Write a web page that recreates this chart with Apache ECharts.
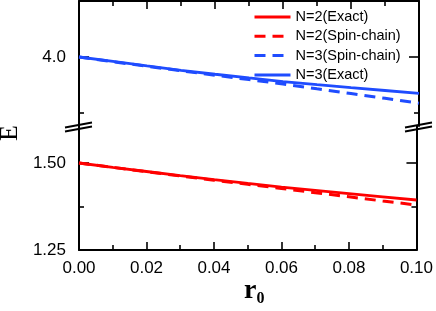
<!DOCTYPE html>
<html><head><meta charset="utf-8">
<script src="https://cdn.jsdelivr.net/npm/echarts@6/dist/echarts.min.js"></script>
<style>html,body{margin:0;padding:0;background:#fff}#c{width:436px;height:311px}</style>
</head><body><div id="c"></div>
<script>
// ---- data ----
const r0 = [0, 0.01, 0.02, 0.03, 0.04, 0.05, 0.06, 0.07, 0.08, 0.09, 0.10];
const n2Exact = [1.5, 1.4876, 1.4756, 1.4638, 1.4523, 1.4414, 1.4307, 1.4213, 1.4121, 1.4029, 1.3937];
const n2Spin  = [1.5, 1.4874, 1.4750, 1.4626, 1.4506, 1.4388, 1.4267, 1.4147, 1.4029, 1.3908, 1.3793];
const n3Spin  = [4.0, 3.958, 3.917, 3.877, 3.837, 3.798, 3.759, 3.716, 3.674, 3.631, 3.587];
const n3Exact = [4.0, 3.960, 3.920, 3.881, 3.846, 3.813, 3.781, 3.753, 3.726, 3.701, 3.676];
const seriesNames = ['N=2(Exact)', 'N=2(Spin-chain)', 'N=3(Spin-chain)', 'N=3(Exact)'];
const upperMajor = [4.0];
const upperMinor = [3.5];
const lowerMajor = [1.25, 1.5];
const lowerMinor = [1.375];
const xMin = 0, xMax = 0.1, xStep = 0.02;
const upperRange = [3.384, 4.5];
const lowerRange = [1.25, 1.6063];

const RED = '#ff0000', BLUE = '#1f4cff';
const FONT = 'Liberation Sans, Arial, sans-serif';
const zip = ys => r0.map((x, i) => [x, ys[i]]);

const chart = echarts.init(document.getElementById('c'), null, {renderer: 'canvas'});

const axLine = {show: true, lineStyle: {color: '#000', width: 2}};
function yAx(grid, pos, range, ticks, len, labels, fmt, showLine) {
  return {
    type: 'value', gridIndex: grid, position: pos, min: range[0], max: range[1],
    axisLine: showLine ? axLine : {show: false},
    axisTick: {show: true, inside: true, length: len, customValues: ticks, lineStyle: {color: '#000', width: 1.6}},
    axisLabel: labels ? {show: true, customValues: labels, formatter: fmt, color: '#000', fontSize: 17, fontFamily: FONT, margin: 13} : {show: false},
    splitLine: {show: false}
  };
}
function xAx(grid, pos, labels) {
  return {
    type: 'value', gridIndex: grid, position: pos, min: xMin, max: xMax, interval: xStep,
    axisLine: axLine,
    axisTick: {show: true, inside: true, length: 8, lineStyle: {color: '#000', width: 1.6}},
    minorTick: {show: true, splitNumber: 2, length: 5, lineStyle: {color: '#000', width: 1.6}},
    axisLabel: labels ? {show: true, formatter: v => v.toFixed(2), color: '#000', fontSize: 17, fontFamily: FONT, margin: 10} : {show: false},
    splitLine: {show: false}, minorSplitLine: {show: false}
  };
}

const option = {
  animation: false,
  backgroundColor: '#fff',
  grid: [
    {left: 79, right: 17, top: 1, height: 125},
    {left: 79, right: 17, top: 126, height: 124}
  ],
  xAxis: [xAx(0, 'top', false), xAx(1, 'bottom', true)],
  yAxis: [
    yAx(0, 'left', upperRange, upperMajor, 10, upperMajor, v => v.toFixed(1), true),
    yAx(0, 'left', upperRange, upperMinor, 5, null, null, false),
    yAx(0, 'right', upperRange, upperMajor, 10, null, null, true),
    yAx(0, 'right', upperRange, upperMinor, 5, null, null, false),
    yAx(1, 'left', lowerRange, lowerMajor, 10, lowerMajor, v => v.toFixed(2), true),
    yAx(1, 'left', lowerRange, lowerMinor, 5, null, null, false),
    yAx(1, 'right', lowerRange, lowerMajor, 10, null, null, true),
    yAx(1, 'right', lowerRange, lowerMinor, 5, null, null, false)
  ],
  legend: {
    orient: 'vertical', left: 253, top: 9.5, padding: 0, itemWidth: 36, itemHeight: 14, itemGap: 4.3,
    data: seriesNames,
    itemStyle: {opacity: 0},
    lineStyle: {width: 3},
    textStyle: {color: '#000', fontSize: 14.5, fontFamily: FONT, lineHeight: 14}
  },
  series: [
    {name: seriesNames[1], type: 'line', xAxisIndex: 1, yAxisIndex: 4, data: zip(n2Spin), symbol: 'none',
     lineStyle: {color: RED, width: 3, type: [11, 7]}, itemStyle: {color: RED}},
    {name: seriesNames[0], type: 'line', xAxisIndex: 1, yAxisIndex: 4, data: zip(n2Exact), symbol: 'none',
     lineStyle: {color: RED, width: 2.8}, itemStyle: {color: RED}},
    {name: seriesNames[2], type: 'line', xAxisIndex: 0, yAxisIndex: 0, data: zip(n3Spin), symbol: 'none',
     lineStyle: {color: BLUE, width: 3, type: [11, 7]}, itemStyle: {color: BLUE}},
    {name: seriesNames[3], type: 'line', xAxisIndex: 0, yAxisIndex: 0, data: zip(n3Exact), symbol: 'none',
     lineStyle: {color: BLUE, width: 2.8}, itemStyle: {color: BLUE}}
  ]
};
chart.setOption(option);

// break marks and axis titles
const b = 126, xl = 79, xr = 419;
function brk(x) {
  return [
    {type: 'line', shape: {x1: x - 14, y1: b + 1.5, x2: x + 13, y2: b - 3.5}, style: {stroke: '#000', lineWidth: 1.8}, z: 100},
    {type: 'line', shape: {x1: x - 14, y1: b + 5.5, x2: x + 13, y2: b + 0.5}, style: {stroke: '#000', lineWidth: 1.8}, z: 100}
  ];
}
chart.setOption({
  graphic: [
    ...brk(xl), ...brk(xr),
    {type: 'text', x: 10.5, y: 133, rotation: Math.PI / 2, z: 100,
     style: {text: 'E', fill: '#000', font: '26px "Liberation Serif", "Times New Roman", serif', align: 'center', verticalAlign: 'middle'}},
    {type: 'text', x: 244, y: 290.5, z: 100,
     style: {text: 'r', fill: '#000', font: 'bold 28px "Liberation Serif", "Times New Roman", serif', align: 'left', verticalAlign: 'middle'}},
    {type: 'text', x: 256.5, y: 299, z: 100,
     style: {text: '0', fill: '#000', font: 'bold 16px "Liberation Serif", "Times New Roman", serif', align: 'left', verticalAlign: 'middle'}}
  ]
});
</script></body></html>
